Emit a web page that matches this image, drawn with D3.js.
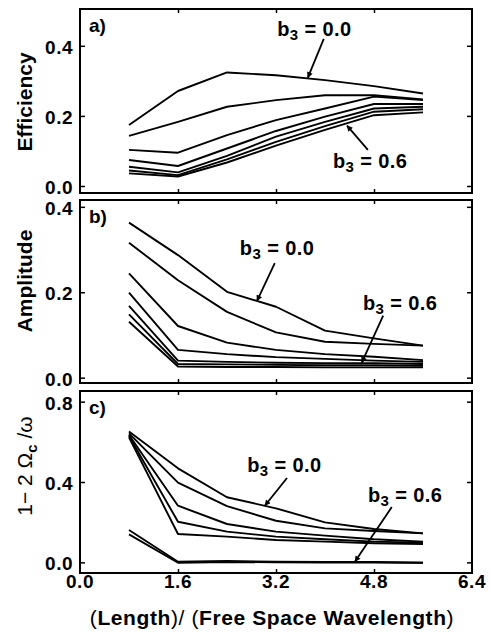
<!DOCTYPE html>
<html>
<head>
<meta charset="utf-8">
<script src="https://cdn.jsdelivr.net/npm/d3@7/dist/d3.min.js"></script>
<style>
  html, body { margin: 0; padding: 0; background: #fff; }
  svg text { font-family: "Liberation Sans", Arial, Helvetica, sans-serif; fill: #000; }
</style>
</head>
<body>
<svg id="chart" width="490" height="632"></svg>
<script>
// x positions shared by all curves: length / free space wavelength
const xValues = [0.8, 1.6, 2.4, 3.2, 4.0, 4.8, 5.6];
const xTicks = [0, 1.6, 3.2, 4.8, 6.4];

// a) efficiency, b3 = 0.0 ... 0.6 (top to bottom)
const efficiency = [
  [0.174, 0.271, 0.324, 0.316, 0.302, 0.285, 0.264],
  [0.143, 0.183, 0.226, 0.245, 0.259, 0.259, 0.247],
  [0.103, 0.095, 0.145, 0.188, 0.221, 0.255, 0.245],
  [0.074, 0.057, 0.107, 0.157, 0.198, 0.234, 0.234],
  [0.055, 0.039, 0.086, 0.141, 0.183, 0.221, 0.226],
  [0.044, 0.031, 0.076, 0.126, 0.171, 0.212, 0.219],
  [0.036, 0.027, 0.067, 0.115, 0.160, 0.202, 0.210]
];

// b) amplitude
const amplitude = [
  [0.363, 0.287, 0.201, 0.166, 0.110, 0.092, 0.075],
  [0.316, 0.228, 0.154, 0.106, 0.084, 0.079, 0.075],
  [0.244, 0.121, 0.082, 0.065, 0.055, 0.049, 0.041],
  [0.199, 0.065, 0.055, 0.048, 0.044, 0.040, 0.037],
  [0.168, 0.040, 0.037, 0.035, 0.034, 0.034, 0.032],
  [0.148, 0.032, 0.031, 0.030, 0.029, 0.029, 0.028],
  [0.131, 0.026, 0.025, 0.025, 0.024, 0.024, 0.024]
];

// c) 1 - 2 Omega_c / omega
const freqShift = [
  [0.651, 0.468, 0.324, 0.269, 0.199, 0.166, 0.144],
  [0.642, 0.397, 0.280, 0.207, 0.169, 0.156, 0.144],
  [0.634, 0.282, 0.191, 0.153, 0.133, 0.115, 0.103],
  [0.629, 0.202, 0.153, 0.128, 0.115, 0.103, 0.098],
  [0.622, 0.141, 0.128, 0.111, 0.103, 0.095, 0.091],
  [0.161, 0.003, 0.007, 0.003, 0.002, 0.002, -0.002],
  [0.139, -0.002, 0.002, 0.000, -0.001, -0.001, -0.002]
];

const yTicksA = [0, 0.2, 0.4];
const yTicksB = [0, 0.2, 0.4];
const yTicksC = [0, 0.4, 0.8];

// annotations in data units: [label, text x, text y, arrow from x, y, arrow to x, y]
const notesA = [["0.0", 3.22, 0.428, 3.98, 0.420, 3.72, 0.309], ["0.6", 4.13, 0.051, 4.70, 0.103, 4.36, 0.172]];
const notesB = [["0.0", 2.61, 0.287, 3.18, 0.268, 2.89, 0.180], ["0.6", 4.62, 0.158, 4.95, 0.145, 4.60, 0.035]];
const notesC = [["0.0", 2.73, 0.450, 3.38, 0.420, 3.02, 0.283], ["0.6", 4.70, 0.300, 5.09, 0.275, 4.49, 0.004]];

const svg = d3.select("#chart");
const left = 80, right = 472;
const x = d3.scaleLinear().domain([0, 6.4]).range([left, right]);

const defs = svg.append("defs");
defs.append("marker")
  .attr("id", "head")
  .attr("viewBox", "0 0 10 10")
  .attr("refX", 9).attr("refY", 5)
  .attr("markerWidth", 7).attr("markerHeight", 6)
  .attr("markerUnits", "userSpaceOnUse")
  .attr("orient", "auto")
  .append("path").attr("d", "M0,0 L10,5 L0,10 z").attr("fill", "#000");

const panels = [
  { top: 9, bottom: 193, domain: [-0.02, 0.505], ticks: yTicksA, data: efficiency, tag: "a)", notes: notesA, labelY: 102 },
  { top: 200, bottom: 383, domain: [-0.0125, 0.416], ticks: yTicksB, data: amplitude, tag: "b)", notes: notesB, labelY: 281 },
  { top: 391, bottom: 573, domain: [-0.053, 0.853], ticks: yTicksC, data: freqShift, tag: "c)", notes: notesC, labelY: 466 }
];

panels.forEach((p, i) => {
  const y = d3.scaleLinear().domain(p.domain).range([p.bottom, p.top]);
  const g = svg.append("g");

  // inner ticks on all four sides
  g.append("g").attr("transform", `translate(${left},0)`)
    .call(d3.axisRight(y).tickValues(p.ticks).tickSize(5).tickFormat(""))
    .call(a => a.select(".domain").remove());
  g.append("g").attr("transform", `translate(${right},0)`)
    .call(d3.axisLeft(y).tickValues(p.ticks).tickSize(5).tickFormat(""))
    .call(a => a.select(".domain").remove());
  g.append("g").attr("transform", `translate(0,${p.bottom})`)
    .call(d3.axisTop(x).tickValues(xTicks.slice(1, -1)).tickSize(4).tickFormat(""))
    .call(a => a.select(".domain").remove());
  g.append("g").attr("transform", `translate(0,${p.top})`)
    .call(d3.axisBottom(x).tickValues(xTicks.slice(1, -1)).tickSize(4).tickFormat(""))
    .call(a => a.select(".domain").remove());
  g.selectAll(".tick line").attr("stroke", "#000").attr("stroke-width", 1.5);

  // y tick labels
  g.selectAll(".ylab").data(p.ticks).enter().append("text")
    .attr("x", left - 7).attr("y", d => y(d)).attr("dy", "0.42em")
    .attr("text-anchor", "end").attr("font-weight", "bold").attr("font-size", 19)
    .attr("letter-spacing", 0.5)
    .text(d => d3.format(".1f")(d));

  // frame
  g.append("rect")
    .attr("x", left).attr("y", p.top)
    .attr("width", right - left).attr("height", p.bottom - p.top)
    .attr("fill", "none").attr("stroke", "#000").attr("stroke-width", 2);

  // curves
  const line = d3.line().x((d, j) => x(xValues[j])).y(d => y(d));
  g.selectAll(".curve").data(p.data).enter().append("path")
    .attr("d", line).attr("fill", "none")
    .attr("stroke", "#000").attr("stroke-width", 1.9).attr("stroke-linejoin", "round");

  // panel tag
  g.append("text").attr("x", left + 9).attr("y", p.top + 23)
    .attr("font-weight", "bold").attr("font-size", 19).text(p.tag);

  // annotations
  p.notes.forEach(n => {
    const t = g.append("text").attr("x", x(n[1])).attr("y", y(n[2]))
      .attr("font-weight", "bold").attr("font-size", 20).attr("letter-spacing", 0.4);
    t.append("tspan").text("b");
    t.append("tspan").attr("font-size", 15).attr("dy", 4).text("3");
    t.append("tspan").attr("dy", -4).text(" = " + n[0]);
    g.append("line")
      .attr("x1", x(n[3])).attr("y1", y(n[4]))
      .attr("x2", x(n[5])).attr("y2", y(n[6]))
      .attr("stroke", "#000").attr("stroke-width", 1.8)
      .attr("marker-end", "url(#head)");
  });
});

// y axis titles
svg.append("text").attr("transform", `translate(32,${panels[0].labelY}) rotate(-90)`)
  .attr("text-anchor", "middle").attr("font-weight", "bold").attr("font-size", 21).text("Efficiency");
svg.append("text").attr("transform", `translate(32,${panels[1].labelY}) rotate(-90)`)
  .attr("text-anchor", "middle").attr("font-weight", "bold").attr("font-size", 21).text("Amplitude");
const tc = svg.append("text").attr("transform", `translate(32,${panels[2].labelY}) rotate(-90)`)
  .attr("text-anchor", "middle").attr("font-size", 21);
tc.append("tspan").text("1\u2212 2 \u03A9");
tc.append("tspan").attr("font-size", 15).attr("font-weight", "bold").attr("dy", 5).text("c");
tc.append("tspan").attr("dy", -5).text(" /\u03C9");

// x tick labels
svg.selectAll(".xlab").data(xTicks).enter().append("text")
  .attr("x", d => x(d)).attr("y", 588)
  .attr("text-anchor", "middle").attr("font-weight", "bold").attr("font-size", 19)
  .attr("letter-spacing", 0.5)
  .text(d => d3.format(".1f")(d));

// x title
const xt = svg.append("text").attr("x", 272).attr("y", 625)
  .attr("text-anchor", "middle").attr("font-size", 21).attr("letter-spacing", 0.6);
xt.append("tspan").attr("font-weight", "normal").text("(");
xt.append("tspan").attr("font-weight", "bold").text("Length");
xt.append("tspan").attr("font-weight", "normal").text(")/ (");
xt.append("tspan").attr("font-weight", "bold").text("Free Space Wavelength");
xt.append("tspan").attr("font-weight", "normal").text(")");
</script>
</body>
</html>
